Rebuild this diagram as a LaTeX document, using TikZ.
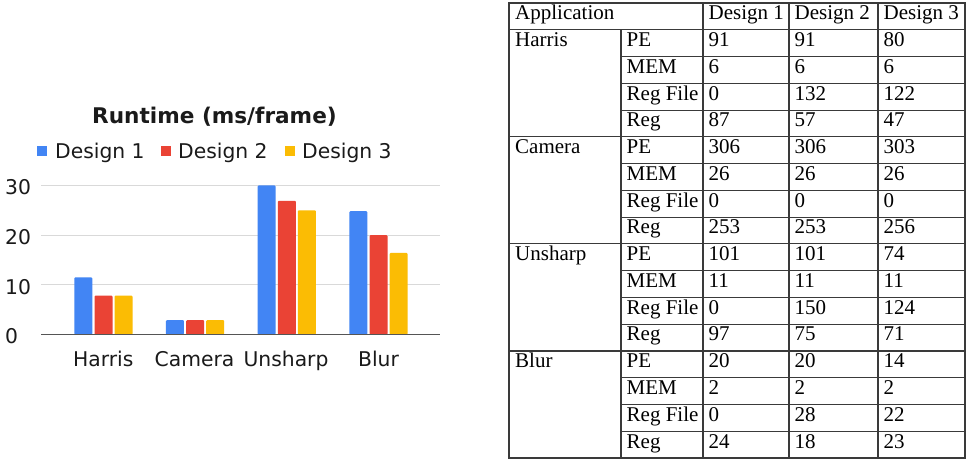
\documentclass[tikz,border=0pt]{standalone}
\usepackage{fontspec}
\setmainfont{Liberation Serif}
\newfontfamily\chartfont{DejaVu Sans}
\definecolor{dOne}{HTML}{4285F4}
\definecolor{dTwo}{HTML}{EA4335}
\definecolor{dThree}{HTML}{FBBC04}
\definecolor{gridgray}{HTML}{D9D9D9}
\definecolor{axisgray}{HTML}{555555}
\definecolor{charttext}{HTML}{1A1A1A}
\definecolor{rulegray}{HTML}{3A3A3A}
\tikzset{
  ctext/.style={inner sep=0pt, text=charttext, font=\chartfont\fontsize{20.3}{20.3}\selectfont},
  ctitle/.style={inner sep=0pt, text=charttext, font=\chartfont\bfseries\fontsize{21.6}{21.6}\selectfont},
  barbox/.style={rounded corners=1pt},
  tcell/.style={anchor=base west, inner sep=0pt, font=\fontsize{21}{21}\selectfont},
  tline/.style={draw=rulegray, line width=1.1pt},
}
\begin{document}
\begin{tikzpicture}[x=1pt,y=-1pt]
\useasboundingbox[fill=white] (0,0) rectangle (967,461);

% ---------------- bar chart ----------------
\def\yzero{334.5}
\def\yunit{4.97}
% grid lines and tick labels
\foreach \v in {10,20,30}{
  \draw[gridgray, line width=1pt] (41,{\yzero-\v*\yunit}) -- (440,{\yzero-\v*\yunit});
}
\foreach \v in {0,10,20,30}{
  \node[ctext, anchor=base west] (tick\v) at (5,{\yzero-\v*\yunit+9.3}) {\v};
}
% bars: group index / blue / red / yellow
\foreach \g/\a/\b/\c in {0/11.5/7.8/7.8, 1/2.9/2.9/2.9, 2/30/26.9/25, 3/24.8/20/16.4}{
  \pgfmathsetmacro{\gx}{74.3+\g*91.67}
  \fill[dOne,barbox]   (\gx,\yzero) rectangle ({\gx+18},{\yzero-\a*\yunit});
  \fill[dTwo,barbox]   ({\gx+20.2},\yzero) rectangle ({\gx+38.2},{\yzero-\b*\yunit});
  \fill[dThree,barbox] ({\gx+40.2},\yzero) rectangle ({\gx+58.2},{\yzero-\c*\yunit});
}
\draw[axisgray, line width=1.2pt] (41,\yzero) -- (440,\yzero);
% category labels
\foreach \name/\cx in {Harris/103.3, Camera/194.5, Unsharp/286, Blur/378.5}{
  \node[ctext, anchor=base] (cat\name) at (\cx,366.7) {\name};
}
% title
\node[ctitle, anchor=base] (title) at (214.5,123.3) {Runtime (ms/frame)};
% legend
\foreach \col/\sx/\tx/\lab in {dOne/37/55/1, dTwo/160.7/178/2, dThree/285/302/3}{
  \fill[\col] (\sx,145.5) rectangle ({\sx+10},155.5);
  \node[ctext, anchor=base west] (leg\lab) at (\tx,158.2) {Design \lab};
}

% ---------------- table ----------------
\def\rh{26.765}
\def\ttop{3}
% outer frame
\draw[tline] (509,\ttop) rectangle (965,{\ttop+17*\rh});
% full-width horizontal rules: header and group separators
\foreach \i in {1,5,9,13}{
  \draw[tline] (509,{\ttop+\i*\rh}) -- (965,{\ttop+\i*\rh});
}
% inner rules between metric rows
\foreach \i in {2,3,4,6,7,8,10,11,12,14,15,16}{
  \draw[tline] (621,{\ttop+\i*\rh}) -- (965,{\ttop+\i*\rh});
}
% vertical rules
\draw[tline] (621,{\ttop+\rh}) -- (621,{\ttop+17*\rh});
\foreach \cx in {703,878}{
  \draw[tline] (\cx,\ttop) -- (\cx,{\ttop+17*\rh});
}
\draw[tline] (789,{\ttop+\rh}) -- (789,{\ttop+17*\rh});
\draw[draw=rulegray, line width=2pt] (789,\ttop) -- (789,{\ttop+\rh});
% header
\node[tcell] (hApp) at (515,{\ttop+\rh-10}) {Application};
\node[tcell] (hD1) at (708.5,{\ttop+\rh-10}) {Design 1};
\node[tcell] (hD2) at (794.5,{\ttop+\rh-10}) {Design 2};
\node[tcell] (hD3) at (883.5,{\ttop+\rh-10}) {Design 3};
% application names
\foreach \app [count=\g from 0] in {Harris,Camera,Unsharp,Blur}{
  \node[tcell] (app\g) at (515,{\ttop+(2+4*\g)*\rh-10}) {\app};
}
% metric rows: row / metric / design 1 / design 2 / design 3
\foreach \r/\k/\a/\b/\c in {
  1/PE/91/91/80, 2/MEM/6/6/6, 3/Reg File/0/132/122, 4/Reg/87/57/47,
  5/PE/306/306/303, 6/MEM/26/26/26, 7/Reg File/0/0/0, 8/Reg/253/253/256,
  9/PE/101/101/74, 10/MEM/11/11/11, 11/Reg File/0/150/124, 12/Reg/97/75/71,
  13/PE/20/20/14, 14/MEM/2/2/2, 15/Reg File/0/28/22, 16/Reg/24/18/23}{
  \node[tcell] (m\r) at (626.5,{\ttop+(\r+1)*\rh-10}) {\k};
  \node[tcell] (a\r) at (708.5,{\ttop+(\r+1)*\rh-10}) {\a};
  \node[tcell] (b\r) at (794.5,{\ttop+(\r+1)*\rh-10}) {\b};
  \node[tcell] (c\r) at (883.5,{\ttop+(\r+1)*\rh-10}) {\c};
}
\end{tikzpicture}
\end{document}
